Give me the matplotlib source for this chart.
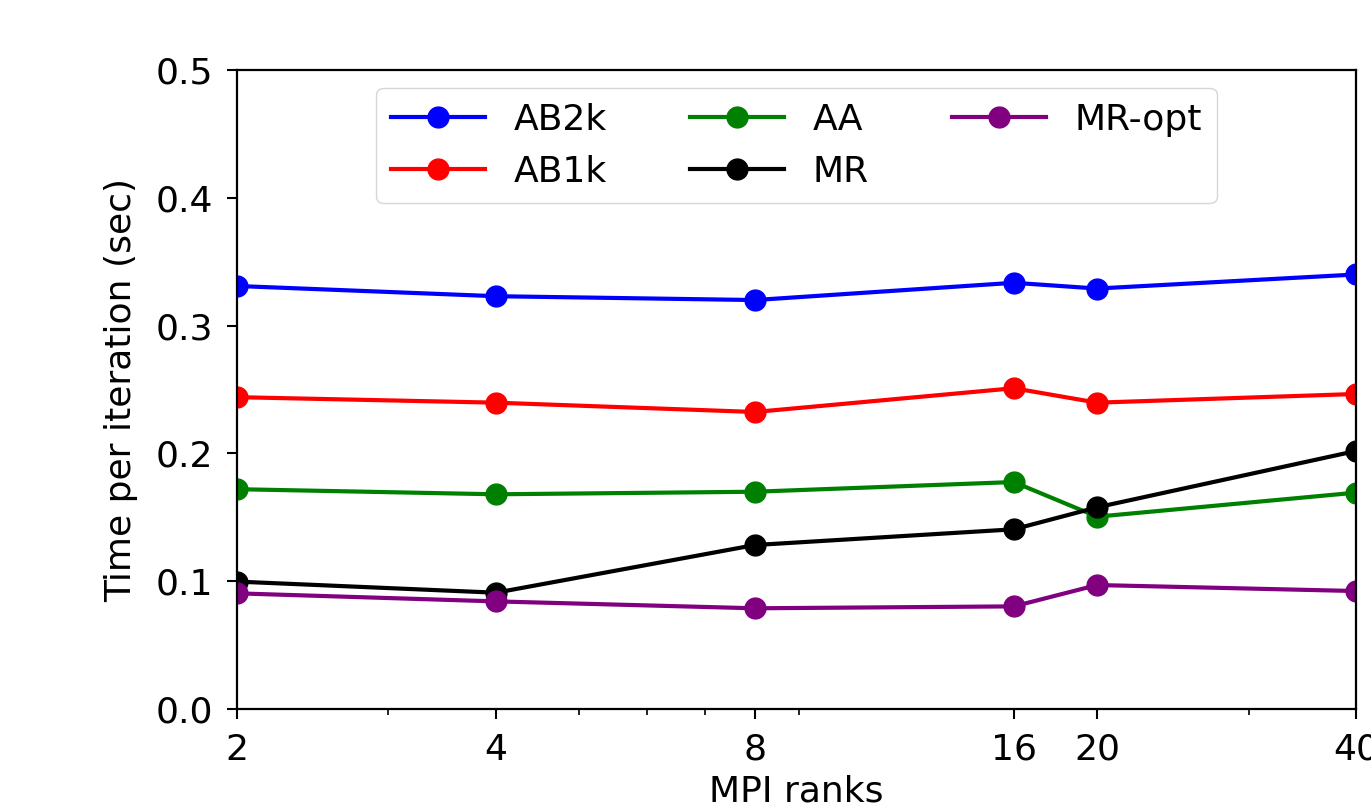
import numpy as np
import matplotlib
matplotlib.use("Agg")
import matplotlib.pyplot as plt
from matplotlib.ticker import FixedLocator, NullFormatter

ranks = [2, 4, 8, 16, 20, 40]
tick_labels = ["2", "4", "8", "16", "20", "40"]

ab2k = [0.331, 0.323, 0.320, 0.3335, 0.329, 0.340]
ab1k = [0.244, 0.2397, 0.2324, 0.251, 0.2397, 0.2465]
aa = [0.172, 0.168, 0.170, 0.1776, 0.1505, 0.1693]
mr = [0.0997, 0.0910, 0.1283, 0.1406, 0.1578, 0.2019]
mr_opt = [0.0905, 0.0842, 0.0788, 0.0803, 0.097, 0.0923]

series = [
    ("AB2k", ab2k, "blue"),
    ("AB1k", ab1k, "red"),
    ("AA", aa, "green"),
    ("MR", mr, "black"),
    ("MR-opt", mr_opt, "purple"),
]

fs = 26
fig = plt.figure(figsize=(13.71, 8.09), dpi=100)
ax = fig.add_axes([0.17287, 0.12361, 0.8162, 0.78986])

for name, vals, col in series:
    ax.plot(ranks, vals, "-o", color=col, label=name, lw=3, ms=15)

ax.set_xscale("log")
ax.set_xlim(2, 40)
ax.set_ylim(0, 0.5)
ax.xaxis.set_major_locator(FixedLocator(ranks))
ax.set_xticklabels(tick_labels)
ax.xaxis.set_minor_formatter(NullFormatter())
ax.set_yticks([0.0, 0.1, 0.2, 0.3, 0.4, 0.5])
ax.set_yticklabels(["0.0", "0.1", "0.2", "0.3", "0.4", "0.5"])

ax.tick_params(axis="both", which="major", labelsize=fs, length=7, width=1.5, pad=10)
ax.tick_params(axis="both", which="minor", length=4, width=1.2)
for sp in ax.spines.values():
    sp.set_linewidth(1.6)

ax.set_xlabel("MPI ranks", fontsize=fs, labelpad=6)
ax.set_ylabel("Time per iteration (sec)", fontsize=fs, labelpad=13)

ax.legend(loc="upper center", ncol=3, fontsize=fs, handlelength=2.6,
          columnspacing=2.3, handletextpad=0.8, borderaxespad=0.5)

fig.savefig("out.png", dpi=100)
